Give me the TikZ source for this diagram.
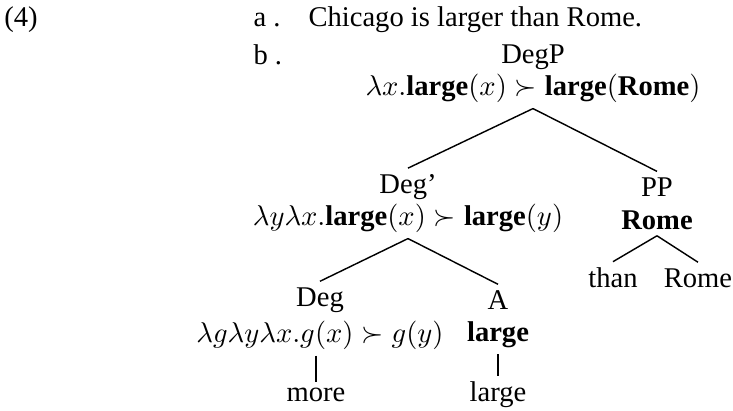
\documentclass[tikz,border=0pt]{standalone}
\usepackage[no-math]{fontspec}
\setmainfont{Liberation Serif}
\usepackage{tikz}
\tikzset{
 branch/.style={line width=.5pt},
 cat/.style={inner sep=2pt,font=\normalsize},
 sem/.style={inner sep=2pt,font=\normalsize},
 leaf/.style={inner sep=2pt,font=\normalsize},
 exlabel/.style={anchor=west,inner sep=0}
}

\begin{document}
\begin{tikzpicture}[x=.35pt,y=-.35pt]
\path[use as bounding box] (0,0) rectangle (733,410);
\node[inner sep=0] (exnum) at (21,20) {(4)};
\node[exlabel] (exa) at (253,20) {a .};
\node[exlabel] (sentence) at (308,20) {Chicago is larger than Rome.};
\node[exlabel] (exb) at (253,55) {b .};
\node[cat] (degp) at (533,57) {DegP};
\node[sem] (degpsem) at (533,88) {$\lambda x.\textbf{large}(x) \succ \textbf{large}(\textbf{Rome})$};
\node[cat] (degbar) at (408,187) {Deg'};
\node[sem] (degbarsem) at (408,218) {$\lambda y\lambda x.\textbf{large}(x) \succ \textbf{large}(y)$};
\node[cat] (pp) at (657,187) {PP};
\node[sem] (ppsem) at (657,220) {\textbf{Rome}};
\node[leaf] (than) at (613,278) {than};
\node[leaf] (rome) at (698,278) {Rome};
\node[cat] (deg) at (320,300) {Deg};
\node[sem] (degsem) at (320,335) {$\lambda g\lambda y\lambda x.g(x) \succ g(y)$};
\node[cat] (adj) at (498,300) {A};
\node[sem] (adjsem) at (498,335) {\textbf{large}};
\node[leaf] (more) at (316,395) {more};
\node[leaf] (large) at (498,395) {large};
\draw[branch] (degpsem.south) -- (degbar.north);
\draw[branch] (degpsem.south) -- (pp.north);
\draw[branch] (degbarsem.south) -- (deg.north);
\draw[branch] (degbarsem.south) -- (adj.north);
\draw[branch] (ppsem.south) -- (than.north);
\draw[branch] (ppsem.south) -- (rome.north);
\draw[branch] (degsem.south -| more.north) -- (more.north);
\draw[branch] (adjsem.south) -- (large.north);
\end{tikzpicture}
\end{document}
